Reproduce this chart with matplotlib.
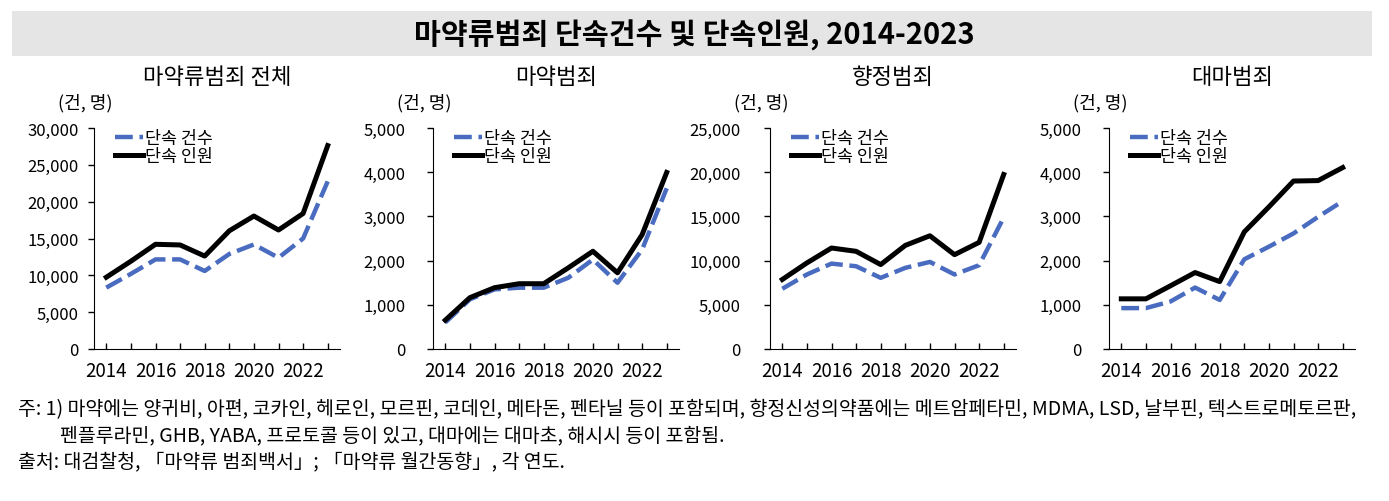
import matplotlib
matplotlib.use("Agg")
import matplotlib.pyplot as plt
from matplotlib.patches import Rectangle
from matplotlib.ticker import FuncFormatter

plt.rcParams['font.family'] = ['Noto Sans CJK KR', 'DejaVu Sans']

# data
years = [2014, 2015, 2016, 2017, 2018, 2019, 2020, 2021, 2022, 2023]

total_cases = [8330, 10200, 12160, 12160, 10590, 12900, 14190, 12390, 15000, 22750]
total_people = [9742, 11916, 14214, 14123, 12613, 16044, 18050, 16153, 18395, 27611]

narc_cases = [600, 1124, 1349, 1387, 1387, 1612, 2024, 1499, 2249, 3636]
narc_people = [652, 1162, 1387, 1477, 1477, 1837, 2211, 1724, 2586, 3995]

psy_cases = [6815, 8430, 9660, 9360, 8050, 9180, 9850, 8430, 9480, 14870]
psy_people = [7865, 9740, 11425, 11050, 9550, 11720, 12810, 10670, 12060, 19740]

can_cases = [925, 925, 1075, 1390, 1110, 2030, 2315, 2615, 2990, 3345]
can_people = [1135, 1135, 1430, 1730, 1525, 2650, 3215, 3800, 3810, 4105]

panel_titles = ['마약류범죄 전체', '마약범죄', '향정범죄', '대마범죄']
panel_cases = [total_cases, narc_cases, psy_cases, can_cases]
panel_people = [total_people, narc_people, psy_people, can_people]
panel_ymax = [30000, 5000, 25000, 5000]
panel_ystep = [5000, 1000, 5000, 1000]
xtick_years = [2014, 2016, 2018, 2020, 2022]

label_cases = '단속 건수'
label_people = '단속 인원'
unit_label = '(건, 명)'
main_title = '마약류범죄 단속건수 및 단속인원, 2014-2023'
note1 = ('주: 1) 마약에는 양귀비, 아편, 코카인, 헤로인, 모르핀, 코데인, 메타돈, 펜타닐 등이 포함되며, '
         '향정신성의약품에는 메트암페타민, MDMA, LSD, 날부핀, 텍스트로메토르판,')
note2 = '펜플루라민, GHB, YABA, 프로토콜 등이 있고, 대마에는 대마초, 해시시 등이 포함됨.'
source = '출처: 대검찰청, 「마약류 범죄백서」; 「마약류 월간동향」, 각 연도.'

W, H = 1389, 502
fig = plt.figure(figsize=(W / 100, H / 100), dpi=100)

# grey title band
fig.patches.append(Rectangle((12 / W, 1 - 57 / H), 1360 / W, 45 / H,
                             transform=fig.transFigure, facecolor='#e5e5e5',
                             edgecolor='none', zorder=0))
fig.text(0.5, 1 - 35 / H, main_title, ha='center', va='center',
         fontsize=21, fontweight='bold')

panel_left = [94, 433, 770, 1109]
ylab_pad = [7, 16, 17, 16]
ax_w, ax_top, ax_bot = 246, 129, 350
blue = '#4a6cc0'

for i in range(4):
    left = panel_left[i]
    ax = fig.add_axes([left / W, 1 - ax_bot / H, ax_w / W, (ax_bot - ax_top) / H])
    ax.plot(years, panel_cases[i], color=blue, lw=3.2, dashes=(4.0, 1.5),
            label=label_cases)
    ax.plot(years, panel_people[i], color='black', lw=3.6, label=label_people)

    ax.set_xlim(2013.5, 2023.5)
    ax.set_ylim(0, panel_ymax[i])
    ax.set_xticks(years)
    ax.set_xticklabels([str(y) if y in xtick_years else '' for y in years])
    ax.set_yticks(range(0, panel_ymax[i] + 1, panel_ystep[i]))
    ax.yaxis.set_major_formatter(FuncFormatter(lambda v, p: f'{int(v):,}'))
    ax.spines['top'].set_visible(False)
    ax.spines['right'].set_visible(False)
    ax.tick_params(axis='x', direction='in', length=4, width=1, labelsize=13.5, pad=8)
    ax.tick_params(axis='y', direction='out', length=4, width=1, labelsize=12,
                   pad=ylab_pad[i])

    ax.legend(loc='upper left', bbox_to_anchor=(0.085, 0.995), frameon=False,
              fontsize=12.5, handlelength=1.6, handletextpad=0.15,
              borderpad=0, borderaxespad=0, labelspacing=0.0)

    cx = (left + ax_w / 2) / W
    fig.text(cx, 1 - 78 / H, panel_titles[i], ha='center', va='center', fontsize=16)
    fig.text((left - 36) / W, 1 - 103 / H, unit_label, ha='left', va='center',
             fontsize=13)

fig.text(18 / W, 1 - 410 / H, note1, ha='left', va='center', fontsize=14.0)
fig.text(60 / W, 1 - 436 / H, note2, ha='left', va='center', fontsize=14.0)
fig.text(18 / W, 1 - 463 / H, source, ha='left', va='center', fontsize=14.0)

fig.savefig('out.png', dpi=100)
